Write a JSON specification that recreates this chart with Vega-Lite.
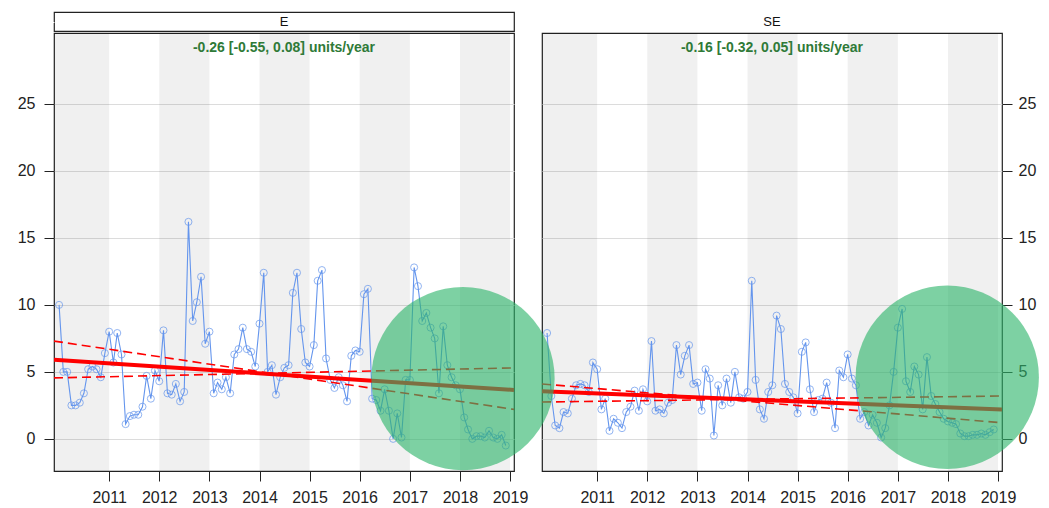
{
  "$schema": "https://vega.github.io/schema/vega-lite/v6.json",
  "padding": {"left": 16, "top": 11, "right": 0, "bottom": 0},
  "autosize": {"type": "pad"},
  "background": "white",
  "config": {
    "font": "Liberation Sans",
    "view": {"stroke": "#222", "strokeWidth": 1.2},
    "axis": {"labelFont": "Liberation Sans", "labelFontSize": 16, "labelColor": "#222", "tickColor": "#222", "domain": false, "tickSize": 10, "grid": false, "title": null}
  },
  "datasets": {
    "e": [
      {"d":"2010-01-01","v":10.0},{"d":"2010-02-01","v":5.0},{"d":"2010-03-01","v":5.0},{"d":"2010-04-01","v":2.5},{"d":"2010-05-01","v":2.5},{"d":"2010-06-01","v":2.7},{"d":"2010-07-01","v":3.4},{"d":"2010-08-01","v":5.2},{"d":"2010-09-01","v":5.4},{"d":"2010-10-01","v":5.2},{"d":"2010-11-01","v":4.6},{"d":"2010-12-01","v":6.4},
      {"d":"2011-01-01","v":8.0},{"d":"2011-02-01","v":5.7},{"d":"2011-03-01","v":7.9},{"d":"2011-04-01","v":6.3},{"d":"2011-05-01","v":1.1},{"d":"2011-06-01","v":1.7},{"d":"2011-07-01","v":1.8},{"d":"2011-08-01","v":1.8},{"d":"2011-09-01","v":2.4},{"d":"2011-10-01","v":4.7},{"d":"2011-11-01","v":3.0},{"d":"2011-12-01","v":5.1},
      {"d":"2012-01-01","v":4.3},{"d":"2012-02-01","v":8.1},{"d":"2012-03-01","v":3.4},{"d":"2012-04-01","v":3.3},{"d":"2012-05-01","v":4.1},{"d":"2012-06-01","v":2.8},{"d":"2012-07-01","v":3.5},{"d":"2012-08-01","v":16.2},{"d":"2012-09-01","v":8.8},{"d":"2012-10-01","v":10.2},{"d":"2012-11-01","v":12.1},{"d":"2012-12-01","v":7.1},
      {"d":"2013-01-01","v":8.0},{"d":"2013-02-01","v":3.4},{"d":"2013-03-01","v":4.2},{"d":"2013-04-01","v":3.7},{"d":"2013-05-01","v":4.6},{"d":"2013-06-01","v":3.4},{"d":"2013-07-01","v":6.3},{"d":"2013-08-01","v":6.7},{"d":"2013-09-01","v":8.3},{"d":"2013-10-01","v":6.7},{"d":"2013-11-01","v":6.5},{"d":"2013-12-01","v":5.4},
      {"d":"2014-01-01","v":8.6},{"d":"2014-02-01","v":12.4},{"d":"2014-03-01","v":5.0},{"d":"2014-04-01","v":5.5},{"d":"2014-05-01","v":3.3},{"d":"2014-06-01","v":4.6},{"d":"2014-07-01","v":5.3},{"d":"2014-08-01","v":5.5},{"d":"2014-09-01","v":10.9},{"d":"2014-10-01","v":12.4},{"d":"2014-11-01","v":8.2},{"d":"2014-12-01","v":5.7},
      {"d":"2015-01-01","v":5.4},{"d":"2015-02-01","v":7.0},{"d":"2015-03-01","v":11.8},{"d":"2015-04-01","v":12.6},{"d":"2015-05-01","v":6.0},{"d":"2015-06-01","v":4.4},{"d":"2015-07-01","v":3.8},{"d":"2015-08-01","v":4.6},{"d":"2015-09-01","v":4.0},{"d":"2015-10-01","v":2.8},{"d":"2015-11-01","v":6.2},{"d":"2015-12-01","v":6.6},
      {"d":"2016-01-01","v":6.5},{"d":"2016-02-01","v":10.8},{"d":"2016-03-01","v":11.2},{"d":"2016-04-01","v":3.0},{"d":"2016-05-01","v":2.9},{"d":"2016-06-01","v":2.1},{"d":"2016-07-01","v":3.7},{"d":"2016-08-01","v":2.1},{"d":"2016-09-01","v":0.0},{"d":"2016-10-01","v":1.9},{"d":"2016-11-01","v":0.1},{"d":"2016-12-01","v":4.4},
      {"d":"2017-01-01","v":4.4},{"d":"2017-02-01","v":12.8},{"d":"2017-03-01","v":11.4},{"d":"2017-04-01","v":8.8},{"d":"2017-05-01","v":9.4},{"d":"2017-06-01","v":8.3},{"d":"2017-07-01","v":7.5},{"d":"2017-08-01","v":3.4},{"d":"2017-09-01","v":8.4},{"d":"2017-10-01","v":5.5},{"d":"2017-11-01","v":4.6},{"d":"2017-12-01","v":4.0},
      {"d":"2018-01-01","v":3.7},{"d":"2018-02-01","v":1.6},{"d":"2018-03-01","v":0.7},{"d":"2018-04-01","v":0.0},{"d":"2018-05-01","v":0.2},{"d":"2018-06-01","v":0.2},{"d":"2018-07-01","v":0.1},{"d":"2018-08-01","v":0.6},{"d":"2018-09-01","v":0.1},{"d":"2018-10-01","v":0.0},{"d":"2018-11-01","v":0.3},{"d":"2018-12-01","v":-0.5}
    ],
    "se": [
      {"d":"2010-01-01","v":7.9},{"d":"2010-02-01","v":3.2},{"d":"2010-03-01","v":1.0},{"d":"2010-04-01","v":0.8},{"d":"2010-05-01","v":2.0},{"d":"2010-06-01","v":1.9},{"d":"2010-07-01","v":3.0},{"d":"2010-08-01","v":4.0},{"d":"2010-09-01","v":4.1},{"d":"2010-10-01","v":4.0},{"d":"2010-11-01","v":3.5},{"d":"2010-12-01","v":5.7},
      {"d":"2011-01-01","v":5.2},{"d":"2011-02-01","v":2.2},{"d":"2011-03-01","v":3.0},{"d":"2011-04-01","v":0.6},{"d":"2011-05-01","v":1.5},{"d":"2011-06-01","v":1.2},{"d":"2011-07-01","v":0.8},{"d":"2011-08-01","v":2.0},{"d":"2011-09-01","v":2.4},{"d":"2011-10-01","v":3.6},{"d":"2011-11-01","v":2.1},{"d":"2011-12-01","v":3.7},
      {"d":"2012-01-01","v":2.8},{"d":"2012-02-01","v":7.3},{"d":"2012-03-01","v":2.1},{"d":"2012-04-01","v":2.2},{"d":"2012-05-01","v":1.9},{"d":"2012-06-01","v":2.7},{"d":"2012-07-01","v":2.9},{"d":"2012-08-01","v":7.0},{"d":"2012-09-01","v":4.8},{"d":"2012-10-01","v":6.2},{"d":"2012-11-01","v":7.0},{"d":"2012-12-01","v":4.1},
      {"d":"2013-01-01","v":4.2},{"d":"2013-02-01","v":2.1},{"d":"2013-03-01","v":5.2},{"d":"2013-04-01","v":4.5},{"d":"2013-05-01","v":0.25},{"d":"2013-06-01","v":4.0},{"d":"2013-07-01","v":2.5},{"d":"2013-08-01","v":4.5},{"d":"2013-09-01","v":2.7},{"d":"2013-10-01","v":5.0},{"d":"2013-11-01","v":3.1},{"d":"2013-12-01","v":3.0},
      {"d":"2014-01-01","v":3.5},{"d":"2014-02-01","v":11.8},{"d":"2014-03-01","v":4.4},{"d":"2014-04-01","v":2.2},{"d":"2014-05-01","v":1.5},{"d":"2014-06-01","v":3.5},{"d":"2014-07-01","v":4.0},{"d":"2014-08-01","v":9.2},{"d":"2014-09-01","v":8.2},{"d":"2014-10-01","v":4.1},{"d":"2014-11-01","v":3.5},{"d":"2014-12-01","v":3.1},
      {"d":"2015-01-01","v":1.9},{"d":"2015-02-01","v":6.5},{"d":"2015-03-01","v":7.2},{"d":"2015-04-01","v":3.7},{"d":"2015-05-01","v":2.0},{"d":"2015-06-01","v":2.9},{"d":"2015-07-01","v":3.0},{"d":"2015-08-01","v":4.2},{"d":"2015-09-01","v":2.7},{"d":"2015-10-01","v":0.8},{"d":"2015-11-01","v":5.1},{"d":"2015-12-01","v":4.6},
      {"d":"2016-01-01","v":6.3},{"d":"2016-02-01","v":4.5},{"d":"2016-03-01","v":4.0},{"d":"2016-04-01","v":1.5},{"d":"2016-05-01","v":2.0},{"d":"2016-06-01","v":1.0},{"d":"2016-07-01","v":1.8},{"d":"2016-08-01","v":1.2},{"d":"2016-09-01","v":0.1},{"d":"2016-10-01","v":0.8},{"d":"2016-11-01","v":2.5},{"d":"2016-12-01","v":5.0},
      {"d":"2017-01-01","v":8.3},{"d":"2017-02-01","v":9.7},{"d":"2017-03-01","v":4.3},{"d":"2017-04-01","v":3.5},{"d":"2017-05-01","v":5.4},{"d":"2017-06-01","v":4.8},{"d":"2017-07-01","v":2.2},{"d":"2017-08-01","v":6.1},{"d":"2017-09-01","v":3.2},{"d":"2017-10-01","v":2.6},{"d":"2017-11-01","v":2.0},{"d":"2017-12-01","v":1.5},
      {"d":"2018-01-01","v":1.3},{"d":"2018-02-01","v":1.2},{"d":"2018-03-01","v":1.1},{"d":"2018-04-01","v":0.4},{"d":"2018-05-01","v":0.2},{"d":"2018-06-01","v":0.2},{"d":"2018-07-01","v":0.3},{"d":"2018-08-01","v":0.3},{"d":"2018-09-01","v":0.4},{"d":"2018-10-01","v":0.3},{"d":"2018-11-01","v":0.5},{"d":"2018-12-01","v":0.7}
    ],
    "bands": [
      {"s":"2009-01-01","t":"2011-01-01"},{"s":"2012-01-01","t":"2013-01-01"},{"s":"2014-01-01","t":"2015-01-01"},{"s":"2016-01-01","t":"2017-01-01"},{"s":"2018-01-01","t":"2019-01-01"}
    ],
    "trendE": [
      {"d":"2009-11-25","fit":5.9,"a":7.3,"b":4.55},
      {"d":"2019-01-30","fit":3.65,"a":2.2,"b":5.3}
    ],
    "trendSE": [
      {"d":"2009-11-25","fit":3.55,"a":4.1,"b":2.75},
      {"d":"2019-01-30","fit":2.2,"a":1.2,"b":3.2}
    ],
    "circles": [
      {"d":"2008-04-28","v":4.5},
      {"d":"2017-12-27","v":4.6}
    ]
  },
  "vconcat": [
    {
      "hconcat": [
        {
          "width": 460, "height": 19,
          "data": {"values": [{"p": "E"}]},
          "mark": {"type": "text", "fontSize": 13, "color": "#111", "baseline": "middle"},
          "encoding": {
            "text": {"field": "p"},
            "y": {"field": "p", "type": "nominal", "axis": {"orient": "left", "labelExpr": "'25'", "labelColor": "white", "tickColor": "white", "labelPadding": 9}}
          }
        },
        {
          "width": 460, "height": 19,
          "data": {"values": [{"p": "SE"}]},
          "mark": {"type": "text", "fontSize": 13, "color": "#111", "baseline": "middle"},
          "encoding": {"text": {"field": "p"}}
        }
      ],
      "spacing": 28,
      "bounds": "flush"
    },
    {
      "hconcat": [
        {
          "width": 460, "height": 438,
          "title": {"text": "-0.26 [-0.55, 0.08] units/year", "color": "#2F7A38", "fontSize": 14, "fontWeight": "bold", "offset": -22, "anchor": "middle", "font": "Liberation Sans"},
          "layer": [
            {
              "data": {"name": "bands"},
              "mark": {"type": "rect", "fill": "#000", "opacity": 0.06, "clip": true},
              "encoding": {
                "x": {"field": "s", "type": "temporal"},
                "x2": {"field": "t"}
              }
            },
            {
              "data": {"name": "e"},
              "mark": {"type": "line", "color": "#6495ED", "strokeWidth": 1.1},
              "encoding": {
                "x": {"field": "d", "type": "temporal",
                  "scale": {"type": "utc", "domain": [{"year":2009,"month":11,"date":25,"utc":true},{"year":2019,"month":1,"date":30,"utc":true}]},
                  "axis": {"format": "%Y", "labelPadding": 8, "values": [{"year":2011,"utc":true},{"year":2012,"utc":true},{"year":2013,"utc":true},{"year":2014,"utc":true},{"year":2015,"utc":true},{"year":2016,"utc":true},{"year":2017,"utc":true},{"year":2018,"utc":true},{"year":2019,"utc":true}]}},
                "y": {"field": "v", "type": "quantitative",
                  "scale": {"domain": [-2.4, 30.3], "nice": false, "zero": false},
                  "axis": {"orient": "left", "values": [0, 5, 10, 15, 20, 25], "grid": true, "gridColor": "#dcdcdc", "labelPadding": 9}}
              }
            },
            {
              "data": {"name": "e"},
              "mark": {"type": "point", "filled": false, "size": 50, "stroke": "#6495ED", "strokeWidth": 1},
              "encoding": {
                "x": {"field": "d", "type": "temporal"},
                "y": {"field": "v", "type": "quantitative"}
              }
            },
            {
              "data": {"name": "trendE"},
              "mark": {"type": "line", "color": "#FF0000", "strokeWidth": 1.6, "strokeDash": [9, 5], "clip": true},
              "encoding": {"x": {"field": "d", "type": "temporal"}, "y": {"field": "a", "type": "quantitative"}}
            },
            {
              "data": {"name": "trendE"},
              "mark": {"type": "line", "color": "#FF0000", "strokeWidth": 1.6, "strokeDash": [9, 5], "clip": true},
              "encoding": {"x": {"field": "d", "type": "temporal"}, "y": {"field": "b", "type": "quantitative"}}
            },
            {
              "data": {"name": "trendE"},
              "mark": {"type": "line", "color": "#FF0000", "strokeWidth": 4, "clip": true},
              "encoding": {"x": {"field": "d", "type": "temporal"}, "y": {"field": "fit", "type": "quantitative"}}
            }
          ]
        },
        {
          "width": 460, "height": 438,
          "title": {"text": "-0.16 [-0.32, 0.05] units/year", "color": "#2F7A38", "fontSize": 14, "fontWeight": "bold", "offset": -22, "anchor": "middle", "font": "Liberation Sans"},
          "layer": [
            {
              "data": {"name": "bands"},
              "mark": {"type": "rect", "fill": "#000", "opacity": 0.06, "clip": true},
              "encoding": {
                "x": {"field": "s", "type": "temporal"},
                "x2": {"field": "t"}
              }
            },
            {
              "data": {"name": "se"},
              "mark": {"type": "line", "color": "#6495ED", "strokeWidth": 1.1},
              "encoding": {
                "x": {"field": "d", "type": "temporal",
                  "scale": {"type": "utc", "domain": [{"year":2009,"month":11,"date":25,"utc":true},{"year":2019,"month":1,"date":30,"utc":true}]},
                  "axis": {"format": "%Y", "labelPadding": 8, "values": [{"year":2011,"utc":true},{"year":2012,"utc":true},{"year":2013,"utc":true},{"year":2014,"utc":true},{"year":2015,"utc":true},{"year":2016,"utc":true},{"year":2017,"utc":true},{"year":2018,"utc":true},{"year":2019,"utc":true}]}},
                "y": {"field": "v", "type": "quantitative",
                  "scale": {"domain": [-2.4, 30.3], "nice": false, "zero": false},
                  "axis": {"orient": "right", "values": [0, 5, 10, 15, 20, 25], "grid": true, "gridColor": "#dcdcdc", "labelPadding": 6}}
              }
            },
            {
              "data": {"name": "se"},
              "mark": {"type": "point", "filled": false, "size": 50, "stroke": "#6495ED", "strokeWidth": 1},
              "encoding": {
                "x": {"field": "d", "type": "temporal"},
                "y": {"field": "v", "type": "quantitative"}
              }
            },
            {
              "data": {"name": "trendSE"},
              "mark": {"type": "line", "color": "#FF0000", "strokeWidth": 1.6, "strokeDash": [9, 5], "clip": true},
              "encoding": {"x": {"field": "d", "type": "temporal"}, "y": {"field": "a", "type": "quantitative"}}
            },
            {
              "data": {"name": "trendSE"},
              "mark": {"type": "line", "color": "#FF0000", "strokeWidth": 1.6, "strokeDash": [9, 5], "clip": true},
              "encoding": {"x": {"field": "d", "type": "temporal"}, "y": {"field": "b", "type": "quantitative"}}
            },
            {
              "data": {"name": "trendSE"},
              "mark": {"type": "line", "color": "#FF0000", "strokeWidth": 4, "clip": true},
              "encoding": {"x": {"field": "d", "type": "temporal"}, "y": {"field": "fit", "type": "quantitative"}}
            },
            {
              "data": {"name": "circles"},
              "mark": {"type": "point", "shape": "circle", "filled": true, "size": 33600, "color": "#2DB46A", "opacity": 0.62, "strokeWidth": 0},
              "encoding": {"x": {"field": "d", "type": "temporal"}, "y": {"field": "v", "type": "quantitative"}}
            }
          ]
        }
      ],
      "spacing": 28,
      "bounds": "flush"
    }
  ],
  "spacing": 0
}
